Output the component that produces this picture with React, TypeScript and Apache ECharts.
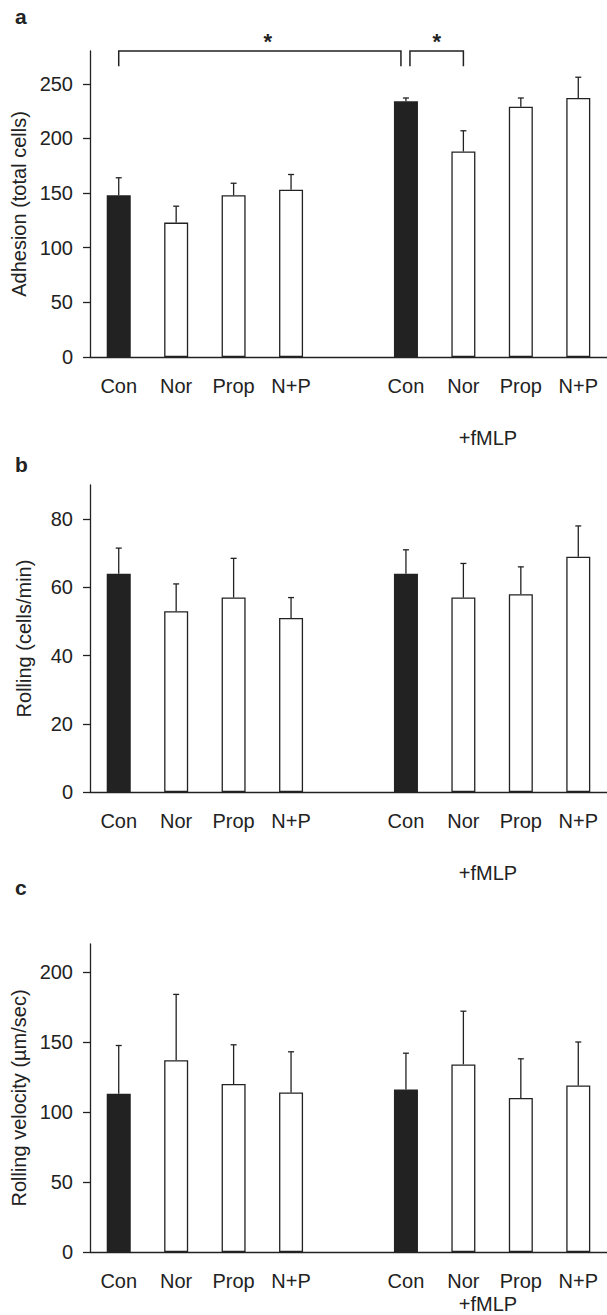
import React, { useEffect, useRef } from "react";
import * as echarts from "echarts";

// ---------- data ----------
const categories = ["Con", "Nor", "Prop", "N+P", "", "Con", "Nor", "Prop", "N+P"];
const filledBar = [true, false, false, false, false, true, false, false, false];

const adhesionMean = [148, 123, 148, 153, null, 234, 188, 229, 237];
const adhesionErr = [16, 15, 11, 14, null, 3, 19, 8, 19];

const rollingMean = [64, 53, 57, 51, null, 64, 57, 58, 69];
const rollingErr = [7.5, 8, 11.5, 6, null, 7, 10, 8, 9];

const velocityMean = [113, 137, 120, 114, null, 116, 134, 110, 119];
const velocityErr = [34.5, 47, 28, 29, null, 26, 38, 28, 31];

const panelLetters = ["a", "b", "c"];
const yNames = ["Adhesion (total cells)", "Rolling (cells/min)", "Rolling velocity (µm/sec)"];
const yMax = [280, 90, 220];
const yTicks = [
  [0, 50, 100, 150, 200, 250],
  [0, 20, 40, 60, 80],
  [0, 50, 100, 150, 200],
];
const groupLabel = "+fMLP";
// significance brackets in panel a: [from category, to category, bracket value, leg-bottom value]
const brackets = [
  [0, 5, 280, 266],
  [5, 6, 280, 266],
];
const starText = "*";

// ---------- layout ----------
const W = 607;
const H = 1315;
const INK = "#222222";
const FONT = "'Liberation Sans', Arial, Helvetica, sans-serif";
const FS = 20;
const grids = [
  { top: 51, height: 306 },
  { top: 485, height: 307 },
  { top: 944, height: 308 },
];
const letterY = [17, 465, 888];
const fmlpY = [438, 873, 1304];
const nameGaps = [56, 56, 60];

export default function App() {
  const ref = useRef<HTMLDivElement>(null);

  useEffect(() => {
    if (!ref.current) return;
    const chart = echarts.init(ref.current, undefined, { renderer: "svg" });

    const means = [adhesionMean, rollingMean, velocityMean];
    const errs = [adhesionErr, rollingErr, velocityErr];

    const gridOpt = grids.map((g) => ({ left: 90, right: 0, top: g.top, height: g.height, containLabel: false }));

    const xAxes = grids.map((_, i) => ({
      type: "category",
      gridIndex: i,
      data: categories,
      boundaryGap: true,
      axisLine: { show: true, lineStyle: { color: INK, width: 1.3 } },
      axisTick: { show: false },
      axisLabel: { interval: 0, color: INK, fontSize: FS, fontFamily: FONT, margin: 19 },
      splitLine: { show: false },
    }));

    const yAxes = grids.map((_, i) => ({
      type: "value",
      gridIndex: i,
      min: 0,
      max: yMax[i],
      name: yNames[i],
      nameLocation: "middle",
      nameGap: nameGaps[i],
      nameTextStyle: { color: INK, fontSize: FS, fontFamily: FONT },
      axisLine: { show: true, lineStyle: { color: INK, width: 1.3 } },
      axisTick: { show: true, length: 7, lineStyle: { color: INK, width: 1.3 }, customValues: yTicks[i] },
      axisLabel: { color: INK, fontSize: FS, fontFamily: FONT, margin: 17, customValues: yTicks[i] },
      splitLine: { show: false },
    }));

    const series: any[] = [];
    means.forEach((m, i) => {
      series.push({
        type: "bar",
        xAxisIndex: i,
        yAxisIndex: i,
        barWidth: 24,
        data: m.map((v, k) =>
          v == null
            ? "-"
            : {
                value: v,
                itemStyle: {
                  color: filledBar[k] ? INK : "#ffffff",
                  borderColor: INK,
                  borderWidth: 1.3,
                },
              }
        ),
        z: 2,
      });
      series.push({
        type: "custom",
        xAxisIndex: i,
        yAxisIndex: i,
        data: m.map((v, k) => (v == null ? null : [k, v, errs[i][k]])).filter((d) => d != null),
        encode: { x: 0, y: 1 },
        z: 3,
        renderItem: (params: any, api: any) => {
          const x = api.value(0);
          const mv = api.value(1);
          const ev = api.value(2);
          const p0 = api.coord([x, mv]);
          const p1 = api.coord([x, mv + ev]);
          const st = { stroke: INK, lineWidth: 1.3 };
          return {
            type: "group",
            children: [
              { type: "line", shape: { x1: p0[0], y1: p0[1], x2: p1[0], y2: p1[1] }, style: st },
              { type: "line", shape: { x1: p1[0] - 3, y1: p1[1], x2: p1[0] + 3, y2: p1[1] }, style: st },
            ],
          };
        },
      });
    });

    // significance brackets (panel a)
    series.push({
      type: "custom",
      xAxisIndex: 0,
      yAxisIndex: 0,
      clip: false,
      data: brackets,
      encode: { x: [0, 1], y: [2, 3] },
      z: 4,
      renderItem: (params: any, api: any) => {
        const from = api.value(0);
        const to = api.value(1);
        const top = api.value(2);
        const legBottom = api.value(3);
        const idx = params.dataIndex;
        const a = api.coord([from, top]);
        const b = api.coord([to, top]);
        const lb = api.coord([from, legBottom]);
        let xl = a[0];
        let xr = b[0];
        // legs meeting at the same bar are nudged apart
        if (idx === 0) xr -= 5;
        if (idx === 1) xl += 4;
        const st = { stroke: INK, lineWidth: 1.5, fill: "none" };
        const mid = (xl + xr) / 2 + (idx === 0 ? 8 : 0);
        return {
          type: "group",
          children: [
            {
              type: "polyline",
              shape: { points: [[xl, lb[1]], [xl, a[1]], [xr, a[1]], [xr, lb[1]]] },
              style: st,
            },
            {
              type: "text",
              x: mid,
              y: a[1] - 10,
              style: {
                text: starText,
                textAlign: "center",
                textVerticalAlign: "middle",
                fontSize: 22,
                fontWeight: "bold",
                fontFamily: FONT,
                fill: INK,
              },
            },
          ],
        };
      },
    });

    const graphic: any[] = [];
    panelLetters.forEach((l, i) => {
      graphic.push({
        type: "text",
        left: 15,
        top: letterY[i] - 11,
        style: { text: l, fontSize: 21, fontWeight: "bold", fontFamily: FONT, fill: INK },
      });
      graphic.push({
        type: "text",
        x: 488,
        y: fmlpY[i],
        style: {
          text: groupLabel,
          fontSize: FS,
          fontFamily: FONT,
          fill: INK,
          textAlign: "center",
          textVerticalAlign: "middle",
        },
      });
    });

    chart.setOption({
      animation: false,
      backgroundColor: "#ffffff",
      grid: gridOpt,
      xAxis: xAxes,
      yAxis: yAxes,
      series,
      graphic,
    });

    return () => chart.dispose();
  }, []);

  return (
    <div
      ref={ref}
      style={{ position: "absolute", left: 0, top: 0, width: W, height: H, background: "#fff" }}
    />
  );
}
